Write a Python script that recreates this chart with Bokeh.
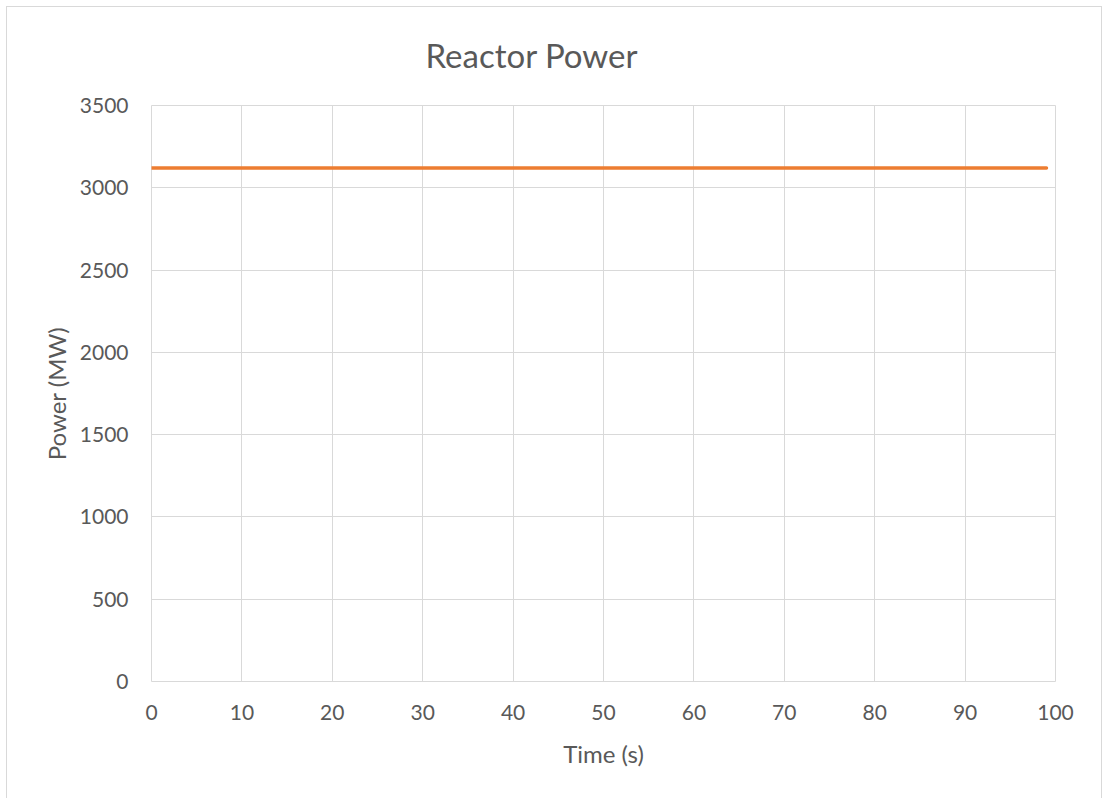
from bokeh.plotting import figure
from bokeh.models import Range1d, InlineStyleSheet
from bokeh.embed import file_html
from bokeh.resources import INLINE

# Reactor power over the transient (s, MW)
time_s = [0, 10, 20, 30, 40, 50, 60, 70, 80, 90, 99]
power_mw = [3120, 3120, 3120, 3120, 3120, 3120, 3120, 3120, 3120, 3120, 3120]

x_ticks = [0, 10, 20, 30, 40, 50, 60, 70, 80, 90, 100]
y_ticks = [0, 500, 1000, 1500, 2000, 2500, 3000, 3500]

FONT = "Lato"
TEXT = "#595959"
GRID = "#D9D9D9"
ORANGE = "#ED7D31"

p = figure(
    width=1103, height=798,
    x_range=Range1d(0, 100), y_range=Range1d(0, 3500),
    output_backend="svg", toolbar_location=None,
    min_border_left=151, min_border_right=48,
    min_border_top=105, min_border_bottom=117,
)
p.background_fill_color = "white"
p.border_fill_color = "white"
p.outline_line_color = GRID
p.outline_line_width = 1

p.title.text = "Reactor Power"
p.title.align = "left"
p.title.offset = 274
p.title.text_font = FONT
p.title.text_font_size = "33px"
p.title.text_font_style = "normal"
p.title.text_color = TEXT
p.title.standoff = 62

p.xaxis.ticker = x_ticks
p.yaxis.ticker = y_ticks

for ax in (p.xaxis, p.yaxis):
    ax.axis_line_color = None
    ax.major_tick_line_color = None
    ax.minor_tick_line_color = None
    ax.major_label_text_font = FONT
    ax.major_label_text_font_size = "21px"
    ax.major_label_text_color = TEXT
    ax.axis_label_text_font = FONT
    ax.axis_label_text_font_size = "24px"
    ax.axis_label_text_color = TEXT
    ax.axis_label_text_font_style = "normal"

p.xaxis.major_label_standoff = 17
p.yaxis.major_label_standoff = 17
p.xaxis.axis_label = "Time (s)"
p.yaxis.axis_label = "Power (MW)"
p.xaxis.axis_label_standoff = 16
p.yaxis.axis_label_standoff = 6

p.xgrid.grid_line_color = GRID
p.ygrid.grid_line_color = GRID
p.xgrid.grid_line_width = 1
p.ygrid.grid_line_width = 1

p.line(time_s, power_mw, line_color=ORANGE, line_width=3.5, line_cap="round")

# light frame around the whole chart area
p.stylesheets = [InlineStyleSheet(css="""
:host::after {
  content: "";
  position: absolute;
  left: 6px; top: 6px;
  width: 1094px; height: 900px;
  border: 1px solid #D9D9D9;
  pointer-events: none;
}
""")]

open("out.html", "w").write(file_html(p, INLINE))
